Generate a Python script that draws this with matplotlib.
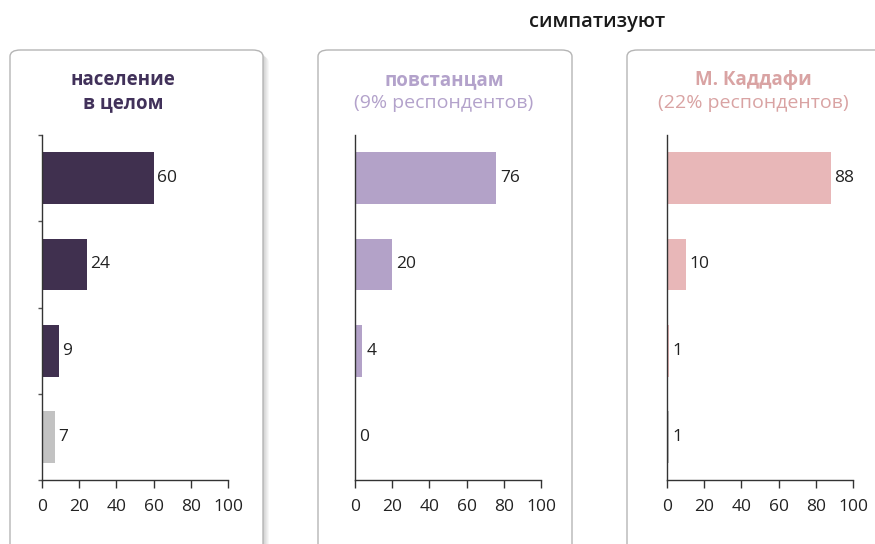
import matplotlib.pyplot as plt
from matplotlib.patches import FancyBboxPatch
import numpy as np

plt.rcParams['font.family'] = ['Open Sans', 'DejaVu Sans']

# data
values_all = [60, 24, 9, 7]
values_rebels = [76, 20, 4, 0]
values_kaddafi = [88, 10, 1, 1]
xticks = [0, 20, 40, 60, 80, 100]

dark = '#40304f'
lilac = '#b3a2c8'
pink = '#e8b7b8'
grey = '#c2c2c2'

W, H = 875, 544
fig = plt.figure(figsize=(W / 100, H / 100), dpi=100)
fig.patch.set_facecolor('white')


def box(x0, x1, y0, y1, shadow=False):
    # рамка в пикселях
    if shadow:
        for i in range(6):
            p = FancyBboxPatch((x0 / W + (1 + i) / W, 1 - y1 / H - (1 + i) / H),
                               (x1 - x0) / W, (y1 - y0) / H,
                               boxstyle="round,pad=0,rounding_size=0.012",
                               transform=fig.transFigure, facecolor='black',
                               edgecolor='none', alpha=0.03, zorder=0)
            fig.patches.append(p)
    p = FancyBboxPatch((x0 / W, 1 - y1 / H), (x1 - x0) / W, (y1 - y0) / H,
                       boxstyle="round,pad=0,rounding_size=0.012",
                       transform=fig.transFigure, facecolor='white',
                       edgecolor='#b5b5b5', linewidth=1.0, zorder=1)
    fig.patches.append(p)


box(10, 263, 50, 560, shadow=True)
box(318, 572, 50, 560)
box(627, 890, 50, 560)

fig.text(597 / W, 1 - 22 / H, 'симпатизуют', ha='center', va='center',
         fontsize=14.5, fontweight='semibold', color='#1a1a1a')


def panel(x0px, vals, color, title_bold, title_norm, tcolor, tcx, yticks_on):
    ax = fig.add_axes([x0px / W, 1 - 480 / H, 186 / W, 345 / H])
    ax.set_zorder(3)
    ax.patch.set_alpha(0)
    pos = np.arange(len(vals))[::-1]
    colors = [color] * (len(vals) - 1) + [grey]
    ax.barh(pos, vals, height=0.6, color=colors, zorder=2)
    for p, v in zip(pos, vals):
        ax.text(v + 2, p, str(v), va='center', ha='left', fontsize=12.5,
                color='#222222')
    ax.set_xlim(0, 100)
    ax.set_ylim(-0.5, 3.5)
    ax.set_xticks(xticks)
    ax.tick_params(axis='x', length=6, width=1, color='#333333',
                   labelsize=12.5, labelcolor='#222222', pad=8)
    if yticks_on:
        ax.set_yticks([-0.5, 0.5, 1.5, 2.5, 3.5])
        ax.set_yticklabels([])
        ax.tick_params(axis='y', length=3, width=1, color='#555555')
    else:
        ax.set_yticks([])
    for s in ['top', 'right']:
        ax.spines[s].set_visible(False)
    for s in ['left', 'bottom']:
        ax.spines[s].set_color('#333333')
        ax.spines[s].set_linewidth(1)
    fig.text(tcx / W, 1 - 80 / H, title_bold, ha='center', va='center',
             fontsize=13.5, fontweight='bold', color=tcolor, zorder=4)
    fig.text(tcx / W, 1 - 103 / H, title_norm, ha='center', va='center',
             fontsize=13.5 if title_norm == 'в целом' else 14,
             fontweight='bold' if title_norm == 'в целом' else 'normal',
             color=tcolor, zorder=4)
    return ax


panel(42, values_all, dark, 'население', 'в целом', '#41315a', 123, True)
panel(355, values_rebels, lilac, 'повстанцам', '(9% респондентов)', '#b3a2cb', 444, False)
panel(667, values_kaddafi, pink, 'М. Каддафи', '(22% респондентов)', '#d9a3a3', 753, False)

fig.savefig('out.png', dpi=100, facecolor='white')
